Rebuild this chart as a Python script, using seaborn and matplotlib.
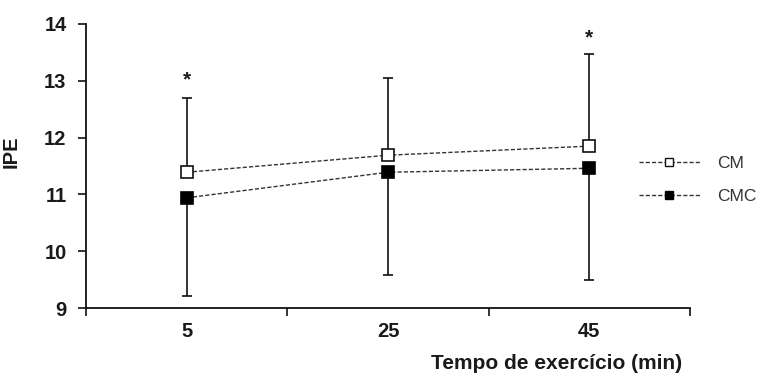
import pandas as pd
import matplotlib.pyplot as plt
import seaborn as sns
from matplotlib.lines import Line2D

# dados
tempos = ["5", "25", "45"]
cm_media = [11.39, 11.69, 11.85]
cmc_media = [10.94, 11.39, 11.46]
cm_dp_sup = [1.31, 1.36, 1.62]      # barra de erro para cima (CM)
cmc_dp_inf = [1.73, 1.81, 1.97]     # barra de erro para baixo (CMC)
asterisco_tempo = ["5", "45"]
asterisco_y = [13.02, 13.76]

sns.set_style("white")
plt.rcParams['font.family'] = ['Liberation Sans', 'DejaVu Sans']

df = pd.DataFrame({
    "tempo": tempos * 2,
    "IPE": cm_media + cmc_media,
    "grupo": ["CM"] * 3 + ["CMC"] * 3,
})

fig = plt.figure(figsize=(7.6, 3.74), dpi=100)
ax = fig.add_axes([86 / 760, 66 / 374, 604 / 760, 284 / 374])

txt = "#1a1a1a"
fs = 14.5

# barras de erro primeiro (ficam atras dos marcadores)
ax.errorbar(tempos, cm_media, yerr=[[0] * 3, cm_dp_sup], fmt="none",
            ecolor="#111111", elinewidth=1.2, capsize=3.6, capthick=1.2, zorder=2)
ax.errorbar(tempos, cmc_media, yerr=[cmc_dp_inf, [0] * 3], fmt="none",
            ecolor="#111111", elinewidth=1.2, capsize=3.6, capthick=1.2, zorder=2)

sns.lineplot(data=df[df.grupo == "CM"], x="tempo", y="IPE", ax=ax,
             color="#333333", linestyle=(0, (3, 1.5)), linewidth=1.0,
             marker="s", markersize=8, markerfacecolor="white",
             markeredgecolor="#111111", markeredgewidth=1.2, zorder=3)
sns.lineplot(data=df[df.grupo == "CMC"], x="tempo", y="IPE", ax=ax,
             color="#333333", linestyle=(0, (3, 1.5)), linewidth=1.0,
             marker="s", markersize=8, markerfacecolor="black",
             markeredgecolor="black", markeredgewidth=1.2, zorder=3)

for t, y in zip(asterisco_tempo, asterisco_y):
    ax.text(t, y, "*", ha="center", va="center", fontsize=15,
            fontweight="bold", color=txt)

ax.set_xlim(-0.5, 2.5)
ax.set_ylim(9, 14)
ax.set_yticks(range(9, 15))
ax.set_xticks([0, 1, 2])
ax.set_xticklabels(tempos)
ax.set_xticks([-0.5, 0.5, 1.5, 2.5], minor=True)
ax.tick_params(axis="x", which="major", bottom=True, length=0, pad=10)
ax.tick_params(axis="x", which="minor", bottom=True, length=6, width=1.2,
               direction="out", color="#111111")
ax.tick_params(axis="y", left=True, length=6, width=1.2, direction="out",
               color="#111111", pad=8)
for lab in ax.get_xticklabels() + ax.get_yticklabels():
    lab.set_fontsize(fs)
    lab.set_fontweight("bold")
    lab.set_color(txt)

for s in ["top", "right"]:
    ax.spines[s].set_visible(False)
for s in ["left", "bottom"]:
    ax.spines[s].set_color("#111111")
    ax.spines[s].set_linewidth(1.3)

ax.set_ylabel("IPE", fontsize=fs, fontweight="bold", color=txt)
ax.yaxis.set_label_coords(-0.108, 0.55)
ax.set_xlabel("Tempo de exercício (min)", fontsize=15, fontweight="bold",
              color=txt)
ax.xaxis.set_label_coords(0.987, -0.195)
ax.xaxis.label.set_ha("right")
ax.xaxis.label.set_va("center")

handles = [
    Line2D([], [], color="#333333", linestyle=(0, (3, 1.5)), linewidth=1.0,
           marker="s", markersize=6, markerfacecolor="white",
           markeredgecolor="#111111"),
    Line2D([], [], color="#333333", linestyle=(0, (3, 1.5)), linewidth=1.0,
           marker="s", markersize=6, markerfacecolor="black",
           markeredgecolor="black"),
]
leg = fig.legend(handles, ["CM", "CMC"], loc="upper left",
                 bbox_to_anchor=(639 / 760, 1 - 156 / 374), frameon=False,
                 fontsize=12.5, handlelength=3.5, handletextpad=1.0,
                 labelspacing=1.0, borderpad=0, borderaxespad=0)
for t in leg.get_texts():
    t.set_color("#333333")

plt.savefig("out.png", dpi=100)
plt.close()
